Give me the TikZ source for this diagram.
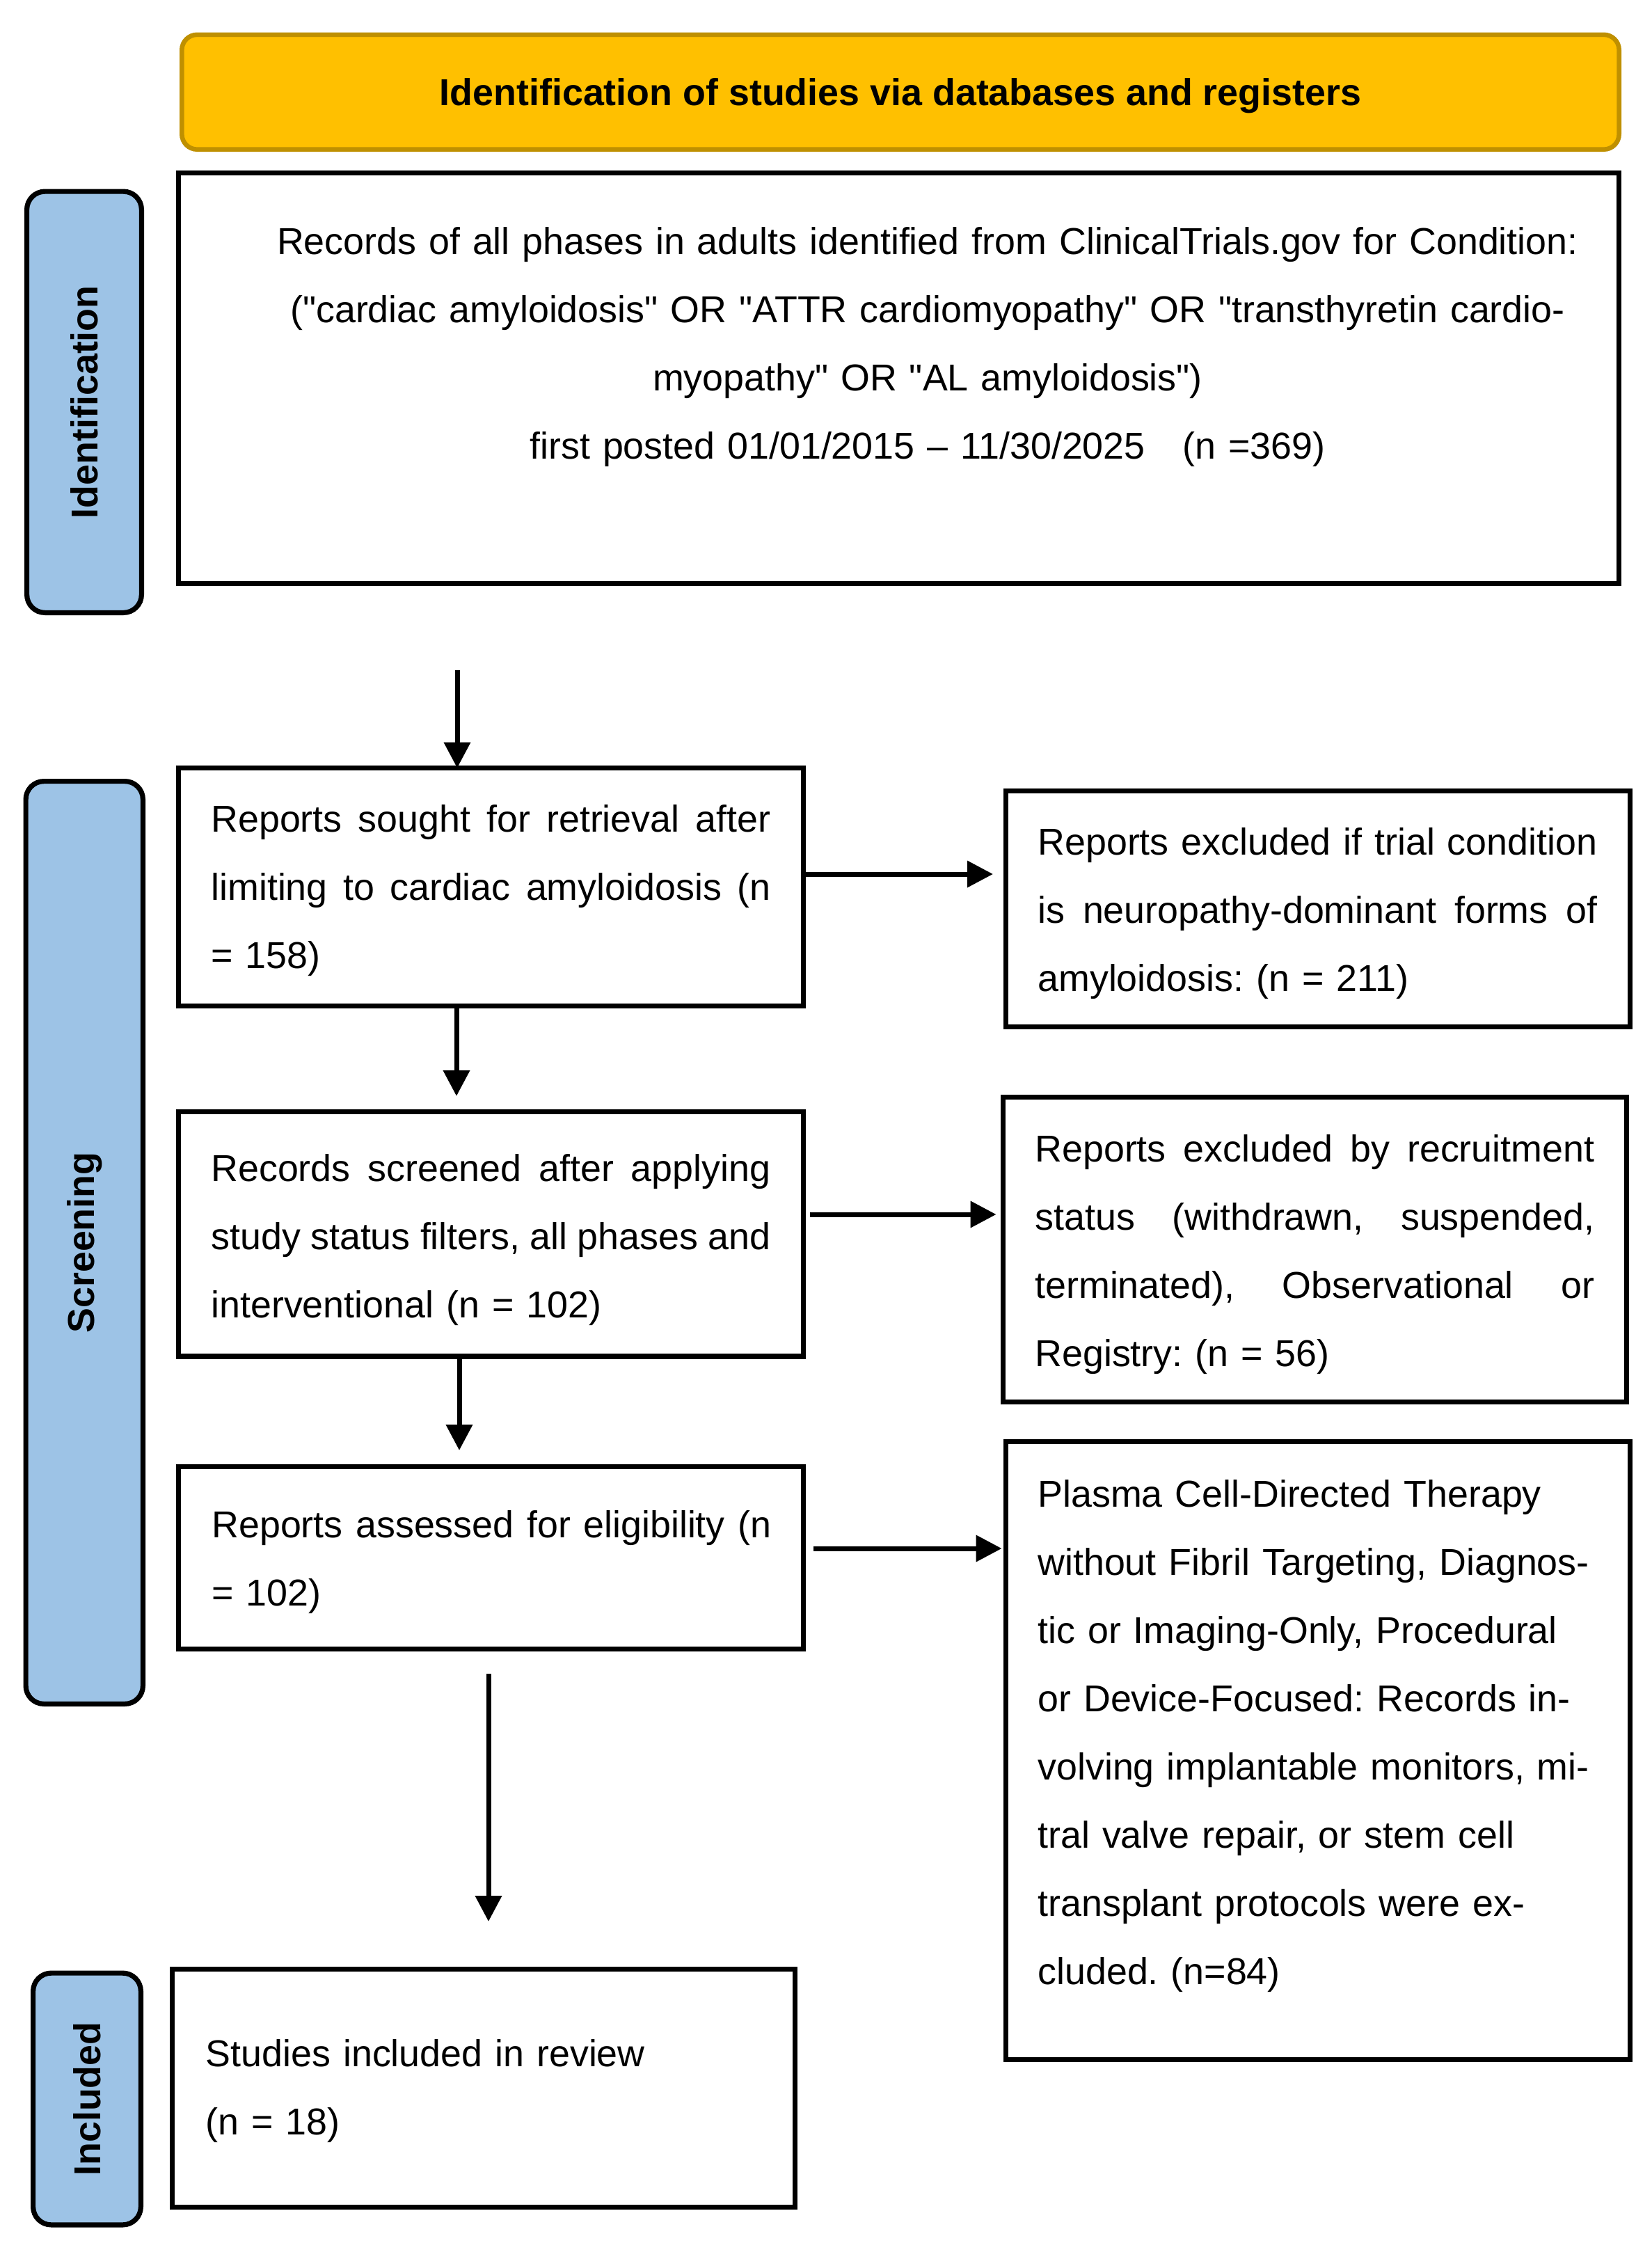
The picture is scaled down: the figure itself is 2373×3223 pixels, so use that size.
\documentclass[tikz,border=0pt]{standalone}
\usepackage{fontspec}
\setmainfont{Liberation Sans}
\newfontfamily\arial{Liberation Sans}
\usetikzlibrary{arrows.meta}
\definecolor{labblue}{HTML}{9DC3E6}
\definecolor{orangef}{HTML}{FFC000}
\definecolor{orangeb}{HTML}{BF9000}
\newcommand\js{\hskip\fontdimen2\font plus 1fil minus 1fil\relax}
\newcommand\jline[1]{\leavevmode\hbox to 402pt{#1}}
\frenchspacing
\begin{document}
\begin{tikzpicture}[x=0.5pt,y=-0.5pt,
  box/.style={draw=black, line width=3.6pt, fill=white, inner sep=0pt, outer sep=0pt},
  lab/.style={draw=black, line width=3.6pt, fill=labblue, rounded corners=13pt, rotate=90, inner sep=0pt, outer sep=0pt, font=\arial\fontsize{26.9}{32}\selectfont\bfseries},
  txt/.style={anchor=base west, inner sep=0pt, align=left, text width=460pt, font=\arial\fontsize{26.9}{49}\selectfont},
  arr/.style={line width=3.5pt, -{Triangle[length=18.5pt,width=18.5pt]}},
]
\useasboundingbox (0,0) rectangle (2373,3223);

% title banner
\node[draw=orangeb, fill=orangef, line width=3.3pt, rounded corners=11pt, inner sep=0pt,
      minimum width=1032.7pt, minimum height=82.45pt, text depth=0pt,
      font=\arial\fontsize{26.9}{32}\selectfont\bfseries] (title) at (1294,132.25)
      {Identification of studies via databases and registers};

% side labels
\node[lab, minimum width=302.65pt, minimum height=82.4pt] (lid) at (121,577.75) {Identification};
\node[lab, minimum width=662.9pt, minimum height=84.15pt] (lscr) at (121.25,1785.5) {Screening};
\node[lab, minimum width=180.9pt, minimum height=77.4pt] (linc) at (125,3016) {Included};

% boxes
\node[box, minimum width=1034.9pt, minimum height=294.9pt] (idbox) at (1291.5,543.5) {};
\node[box, minimum width=448.9pt, minimum height=170.9pt] (b2) at (705.5,1274.5) {};
\node[box, minimum width=448.4pt, minimum height=169.4pt] (ex1) at (1894,1306) {};
\node[box, minimum width=448.9pt, minimum height=175.65pt] (b3) at (705.5,1773.25) {};
\node[box, minimum width=447.9pt, minimum height=218.9pt] (ex2) at (1889.5,1795.5) {};
\node[box, minimum width=448.9pt, minimum height=130.9pt] (b4) at (705.5,2238.5) {};
\node[box, minimum width=448.4pt, minimum height=443.9pt] (ex3) at (1894,2515.5) {};
\node[box, minimum width=447.4pt, minimum height=170.9pt] (b5) at (695,3000.5) {};

% texts
\node[anchor=base, inner sep=0pt, text width=1100pt, align=center,
      font=\arial\fontsize{26.9}{49}\selectfont] (tid) at (1333,365.5)
 {Records of all phases in adults identified from ClinicalTrials.gov for Condition:\\
  ("cardiac amyloidosis" OR "ATTR cardiomyopathy" OR "transthyretin cardio-\\
  myopathy" OR "AL amyloidosis")\\
  first posted 01/01/2015 – 11/30/2025\hspace{18pt} (n =369)};

\node[txt] (tb2) at (303,1195)
 {\jline{Reports\js sought\js for\js retrieval\js after}\\
  \jline{limiting\js to\js cardiac\js amyloidosis\js (n}\\
  = 158)};

\node[txt] (tex1) at (1491,1228)
 {\jline{Reports\js excluded\js if\js trial\js condition}\\
  \jline{is\js neuropathy-dominant\js forms\js of}\\
  amyloidosis: (n = 211)};

\node[txt] (tb3) at (303,1697)
 {\jline{Records\js screened\js after\js applying}\\
  \jline{study\js status\js filters,\js all\js phases\js and}\\
  interventional (n = 102)};

\node[txt] (tex2) at (1487,1669)
 {\jline{Reports\js excluded\js by\js recruitment}\\
  \jline{status\js (withdrawn,\js suspended,}\\
  \jline{terminated),\js Observational\js or}\\
  Registry: (n = 56)};

\node[txt] (tb4) at (304,2209)
 {\jline{Reports\js assessed\js for\js eligibility\js (n}\\
  = 102)};

\node[txt] (tex3) at (1491,2165)
 {Plasma Cell-Directed Therapy\\
  without Fibril Targeting, Diagnos-\\
  tic or Imaging-Only, Procedural\\
  or Device-Focused: Records in-\\
  volving implantable monitors, mi-\\
  tral valve repair, or stem cell\\
  transplant protocols were ex-\\
  cluded. (n=84)};

\node[txt] (tb5) at (295.5,2969)
 {Studies included in review\\
  (n = 18)};

% connectors
\coordinate (ca1) at (657,963);
\coordinate (cy2) at (0,1256);
\coordinate (cx3) at (656,0);
\coordinate (cy4) at (0,1745);
\coordinate (cx5) at (660,0);
\coordinate (cy6) at (0,2225);
\coordinate (cx7) at (702,0);

\draw[arr] (ca1) -- (ca1 |- b2.north);
\draw[arr, shorten >=9.3pt] (b2.east |- cy2) -- (ex1.west |- cy2);
\draw[arr, shorten >=11.3pt] (cx3 |- b2.south) -- (cx3 |- b3.north);
\draw[arr, shorten <=4.8pt, shorten >=5pt] (b3.east |- cy4) -- (ex2.west |- cy4);
\draw[arr, shorten >=11.8pt] (cx5 |- b3.south) -- (cx5 |- b4.north);
\draw[arr, shorten <=7.5pt, shorten >=3pt] (b4.east |- cy6) -- (ex3.west |- cy6);
\draw[arr, shorten <=17.8pt, shorten >=34.3pt] (cx7 |- b4.south) -- (cx7 |- b5.north);
\end{tikzpicture}
\end{document}
